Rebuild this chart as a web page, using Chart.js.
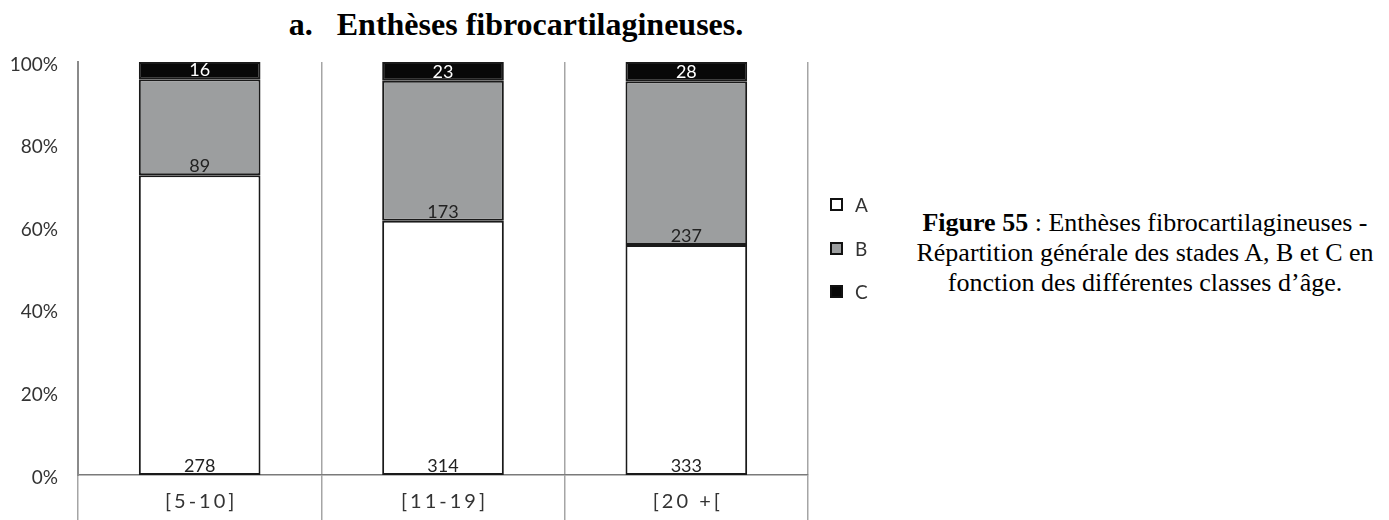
<!DOCTYPE html>
<html>
<head>
<meta charset="utf-8">
<script src="https://cdn.jsdelivr.net/npm/chart.js@4"></script>
<style>
  body { margin: 0; background: #fff; width: 1389px; height: 520px; overflow: hidden; position: relative; }
  #wrap { position: absolute; left: 0; top: 0; width: 860px; height: 520px; }
  #title { position: absolute; left: 216px; width: 600px; top: 8px; text-align: center;
           font: bold 32px "Liberation Serif", serif; line-height: 32px; color: #000; white-space: nowrap; }
  #legend { position: absolute; left: 830px; top: 182.75px; font: 19px Lato, sans-serif; color: #333; }
  .lg { height: 43.5px; display: flex; align-items: center; }
  .sw { width: 9px; height: 9px; border: 2px solid #111; margin-right: 12px; display: inline-block; }
  #caption { position: absolute; left: 875px; width: 540px; top: 208px; text-align: center;
             font: 26px "Liberation Serif", serif; line-height: 30px; color: #000; white-space: nowrap; }
</style>
</head>
<body>
<div id="title">a.&nbsp;&nbsp;&nbsp;Enthèses fibrocartilagineuses.</div>
<div id="wrap"><canvas id="chart"></canvas></div>
<div id="legend"></div>
<div id="caption"><b>Figure 55</b> : Enthèses fibrocartilagineuses -<br>Répartition générale des stades A, B et C en<br>fonction des différentes classes d’âge.</div>
<script>
// ================= DATA =================
const ageClasses = ["[5-10]", "[11-19]", "[20 +["];
const stadeA = [278, 314, 333];
const stadeB = [89, 173, 237];
const stadeC = [16, 23, 28];
const stageNames = ["A", "B", "C"];
const stageColors = ["#ffffff", "#9c9e9f", "#080808"];
const labelColors = ["#222222", "#222222", "#ffffff"];

const totals = ageClasses.map((_, i) => stadeA[i] + stadeB[i] + stadeC[i]);
const toPct = arr => arr.map((v, i) => v / totals[i] * 100);

const counts = [stadeA, stadeB, stadeC];

// ================= PLUGINS =================
// numbers written at the bottom of each segment
const valueLabels = {
  id: "valueLabels",
  afterDatasetsDraw(chart) {
    const ctx = chart.ctx;
    ctx.save();
    ctx.font = "18px Lato, sans-serif";
    ctx.textAlign = "center";
    ctx.textBaseline = "alphabetic";
    chart.data.datasets.forEach((ds, i) => {
      chart.getDatasetMeta(i).data.forEach((bar, j) => {
        ctx.fillStyle = labelColors[i];
        ctx.fillText(counts[i][j], bar.x, bar.base - 3);
      });
    });
    ctx.restore();
  }
};

// x labels are letter-spaced in the original
const spacedXLabels = {
  id: "spacedXLabels",
  afterDraw(chart) {
    const ctx = chart.ctx;
    const x = chart.scales.x;
    ctx.save();
    ctx.font = "20px Lato, sans-serif";
    ctx.fillStyle = "#333";
    ctx.textAlign = "center";
    ctx.textBaseline = "middle";
    ctx.letterSpacing = "3px";
    ageClasses.forEach((lbl, i) => {
      ctx.fillText(lbl, x.getPixelForValue(i) + 1.5, 502);
    });
    ctx.restore();
  }
};

// ================= CHART =================
const chart = new Chart(document.getElementById("chart"), {
  type: "bar",
  data: {
    labels: ageClasses,
    datasets: counts.map((arr, i) => ({
      label: stageNames[i],
      data: toPct(arr),
      backgroundColor: stageColors[i],
      borderColor: "#1a1a1a",
      borderWidth: 2,
      borderSkipped: false,
      categoryPercentage: 1,
      barPercentage: 0.5
    }))
  },
  options: {
    responsive: true,
    maintainAspectRatio: false,
    animation: false,
    layout: { padding: { top: 62, right: 52, bottom: 0, left: 0 } },
    plugins: { legend: { display: false }, tooltip: { enabled: false } },
    scales: {
      x: {
        stacked: true,
        grid: { offset: true, color: "#a5a5a5", lineWidth: 1.5, drawTicks: true, tickLength: 45 },
        border: { display: true, color: "#7a7a7a", width: 1.5 },
        ticks: { display: false },
        afterFit: s => { s.height = 45; }
      },
      y: {
        stacked: true,
        min: 0,
        max: 100,
        grid: { display: false, drawTicks: false },
        border: { display: true, color: "#8a8a8a", width: 2 },
        ticks: {
          stepSize: 20,
          padding: 20,
          labelOffset: 2.5,
          color: "#333",
          font: { family: "Lato", size: 19 },
          callback: v => v + "%"
        },
        afterFit: s => { s.width = 78; }
      }
    }
  },
  plugins: [valueLabels, spacedXLabels]
});

// ================= LEGEND =================
const legend = document.getElementById("legend");
stageNames.forEach((n, i) => {
  legend.innerHTML += `<div class="lg"><span class="sw" style="background:${stageColors[i]}"></span>${n}</div>`;
});
</script>
</body>
</html>
